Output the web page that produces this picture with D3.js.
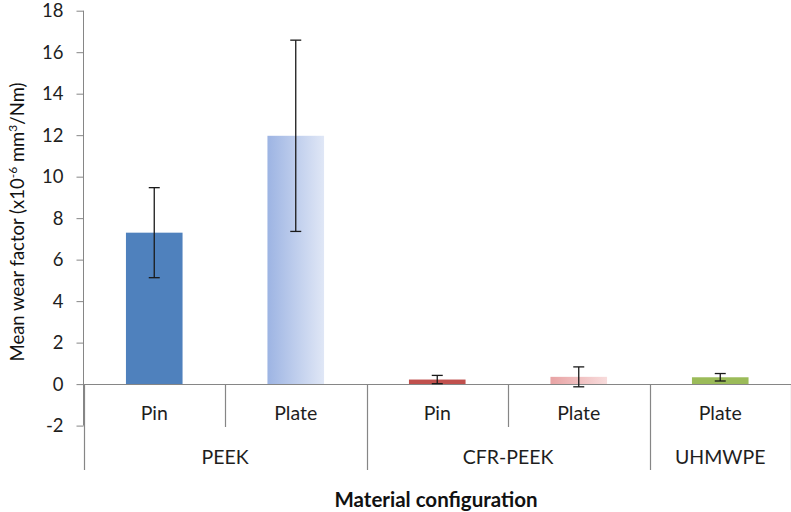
<!DOCTYPE html>
<html>
<head>
<meta charset="utf-8">
<script src="https://cdn.jsdelivr.net/npm/d3@7"></script>
<style>
  html, body { margin: 0; padding: 0; background: #fff; }
  svg { display: block; font-family: "Lato", "Open Sans", sans-serif; }
</style>
</head>
<body>
<svg id="chart" width="791" height="512"></svg>
<script>
const configs = ["Pin", "Plate", "Pin", "Plate", "Plate"];
const materials = ["PEEK", "PEEK", "CFR-PEEK", "CFR-PEEK", "UHMWPE"];
const meanWear = [7.3, 11.97, 0.22, 0.35, 0.33];
const errWear = [2.17, 4.61, 0.2, 0.48, 0.18];
const yTicks = [-2, 0, 2, 4, 6, 8, 10, 12, 14, 16, 18];
const barColorsA = ["#4f81bd", "#9db4e3", "#c0504d", "#e8a3a4", "#9bbb59"];
const barColorsB = ["#4f81bd", "#e0e7f6", "#c0504d", "#f8dcdc", "#9bbb59"];

const svg = d3.select("#chart");
const axisColor = "#868686";
const textColor = "#1e1e1e";

const x = d3.scaleBand().domain(d3.range(configs.length)).range([83.5, 791]).paddingInner(0).paddingOuter(0);
const y = d3.scaleLinear().domain([-2, 18]).range([425.6, 10.7]);
const barW = x.bandwidth() * 0.4;

// gradients
const defs = svg.append("defs");
configs.forEach((c, i) => {
  const g = defs.append("linearGradient").attr("id", "g" + i).attr("x1", "0%").attr("x2", "100%").attr("y1", "0%").attr("y2", "0%");
  g.append("stop").attr("offset", "0%").attr("stop-color", barColorsA[i]);
  g.append("stop").attr("offset", "100%").attr("stop-color", barColorsB[i]);
});

// bars
svg.append("g").selectAll("rect").data(meanWear).join("rect")
  .attr("x", (d, i) => x(i) + x.bandwidth() / 2 - barW / 2)
  .attr("width", barW)
  .attr("y", d => y(d))
  .attr("height", d => y(0) - y(d))
  .attr("fill", (d, i) => `url(#g${i})`);

// y axis
const yAxis = svg.append("g").attr("transform", "translate(83.5,0)")
  .call(d3.axisLeft(y).tickValues(yTicks).tickSize(7).tickPadding(13).tickFormat(d => String(d)));
yAxis.select(".domain").attr("stroke", axisColor).attr("d", `M0,${y(18)}V${y(-2)}`);
yAxis.selectAll(".tick line").attr("stroke", axisColor);
yAxis.selectAll(".tick text").attr("fill", textColor).style("font-size", "18.5px").style("font-family", "Lato, sans-serif");

// baseline (category axis at 0)
const y0 = Math.round(y(0)) + 0.5;
svg.append("line").attr("x1", 83.5).attr("x2", 791).attr("y1", y0).attr("y2", y0).attr("stroke", axisColor).attr("stroke-width", 1.2);

// error bars
const eg = svg.append("g").attr("stroke", "#1a1a1a").attr("stroke-width", 1.3);
meanWear.forEach((m, i) => {
  const cx = x(i) + x.bandwidth() / 2;
  const top = y(m + errWear[i]), bot = y(m - errWear[i]);
  eg.append("line").attr("x1", cx).attr("x2", cx).attr("y1", top).attr("y2", bot);
  eg.append("line").attr("x1", cx - 5.5).attr("x2", cx + 5.5).attr("y1", top).attr("y2", top);
  eg.append("line").attr("x1", cx - 5.5).attr("x2", cx + 5.5).attr("y1", bot).attr("y2", bot);
});

// multi-level category axis
const cat = svg.append("g").attr("stroke", axisColor).attr("stroke-width", 1.2);
const bottomInner = 427, bottomOuter = 470;
for (let i = 0; i <= configs.length; i++) {
  const bx = i < configs.length ? x(i) : 790.5;
  const isGroupEdge = i === 0 || i === configs.length || materials[i] !== materials[i - 1];
  cat.append("line").attr("x1", Math.round(bx) + 0.5).attr("x2", Math.round(bx) + 0.5)
    .attr("y1", y0).attr("y2", isGroupEdge ? bottomOuter : bottomInner);
}

svg.append("g").selectAll("text").data(configs).join("text")
  .attr("x", (d, i) => x(i) + x.bandwidth() / 2)
  .attr("y", 420)
  .attr("text-anchor", "middle")
  .attr("fill", textColor)
  .style("font-size", "19.5px")
  .text(d => d);

// group labels
const groups = [];
materials.forEach((m, i) => {
  if (!groups.length || groups[groups.length - 1].name !== m) groups.push({ name: m, start: i, end: i });
  else groups[groups.length - 1].end = i;
});
svg.append("g").selectAll("text").data(groups).join("text")
  .attr("x", d => (x(d.start) + x(d.end) + x.bandwidth()) / 2)
  .attr("y", 464)
  .attr("text-anchor", "middle")
  .attr("fill", textColor)
  .style("font-size", "19.5px")
  .text(d => d.name);

// axis titles
svg.append("text")
  .attr("x", 436).attr("y", 507)
  .attr("text-anchor", "middle")
  .attr("fill", "#111")
  .style("font-size", "20.5px").style("font-weight", "bold")
  .text("Material configuration");

const yt = svg.append("text")
  .attr("transform", "translate(24,222) rotate(-90)")
  .attr("text-anchor", "middle")
  .attr("fill", "#111")
  .style("font-size", "18.5px");
yt.append("tspan").text("Mean wear factor (x10");
yt.append("tspan").attr("baseline-shift", "super").style("font-size", "12px").text("-6");
yt.append("tspan").text(" mm");
yt.append("tspan").attr("baseline-shift", "super").style("font-size", "12px").text("3");
yt.append("tspan").text("/Nm)");
</script>
</body>
</html>
